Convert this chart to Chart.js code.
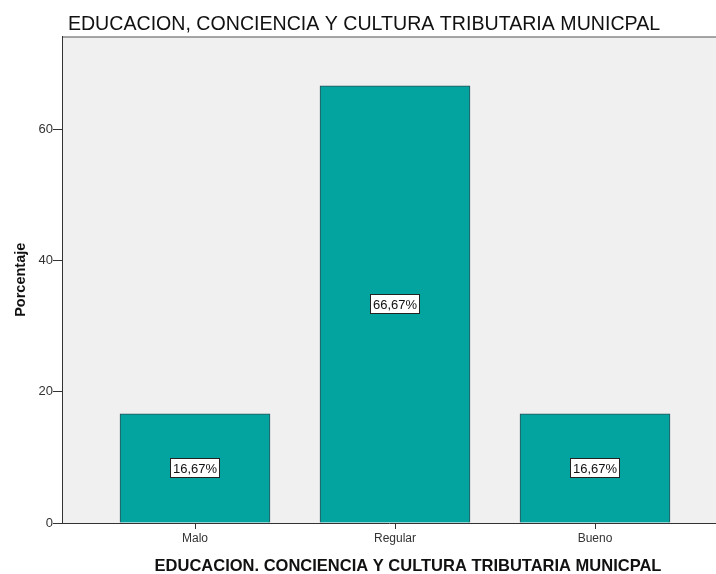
<!DOCTYPE html>
<html>
<head>
<meta charset="utf-8">
<script src="https://cdn.jsdelivr.net/npm/chart.js@4.4.1/dist/chart.umd.min.js"></script>
<style>
  html, body { margin: 0; padding: 0; background: #fff; }
  #wrap { width: 716px; height: 574px; }
</style>
</head>
<body>
<div id="wrap"><canvas id="graph" width="716" height="574"></canvas></div>
<script>
var categorias = ["Malo", "Regular", "Bueno"];
var porcentajes = [16.67, 66.67, 16.67];
var etiquetas = ["16,67%", "66,67%", "16,67%"];
var yTicks = [0, 20, 40, 60];
var tituloX = "EDUCACION. CONCIENCIA Y CULTURA TRIBUTARIA MUNICPAL";

var puntos = [];
for (var i = 0; i < categorias.length; i++) {
    puntos.push({x: i + 1, y: porcentajes[i]});
}

// fondo gris del area de grafico + borde superior
var fondo = {
    id: "fondo",
    beforeDraw: function(chart) {
        var a = chart.chartArea, ctx = chart.ctx;
        ctx.save();
        ctx.fillStyle = "#f0f0f0";
        ctx.fillRect(a.left, a.top, a.right - a.left, a.bottom - a.top);
        ctx.strokeStyle = "#555";
        ctx.lineWidth = 1;
        ctx.beginPath();
        ctx.moveTo(a.left, a.top + 0.5);
        ctx.lineTo(a.right, a.top + 0.5);
        ctx.stroke();
        ctx.restore();
    }
};

// cajitas blancas con el porcentaje + titulo del eje x (un poco corrido a la derecha como en SPSS)
var cajas = {
    id: "cajas",
    afterDatasetsDraw: function(chart) {
        var ctx = chart.ctx;
        var meta = chart.getDatasetMeta(0);
        ctx.save();
        ctx.font = "13px 'Liberation Sans', Arial, sans-serif";
        ctx.textAlign = "center";
        ctx.textBaseline = "middle";
        meta.data.forEach(function(bar, i) {
            var cx = bar.x;
            var cy = (bar.y + bar.base) / 2;
            var t = etiquetas[i];
            var w = Math.round(ctx.measureText(t).width + 6);
            var h = 20;
            var x0 = Math.round(cx - w / 2), y0 = Math.round(cy - h / 2);
            ctx.fillStyle = "#fff";
            ctx.fillRect(x0, y0, w, h);
            ctx.strokeStyle = "#222";
            ctx.lineWidth = 1;
            ctx.strokeRect(x0 + 0.5, y0 + 0.5, w - 1, h - 1);
            ctx.fillStyle = "#111";
            ctx.fillText(t, cx, cy + 1);
        });
        var xs = chart.scales.x;
        ctx.font = "bold 16.5px 'Liberation Sans', Arial, sans-serif";
        ctx.fillText(tituloX, xs.getPixelForValue(2) + 13, chart.height - 8);
        ctx.restore();
    }
};

new Chart("graph", {
    type: "bar",
    data: {
        datasets: [{
            data: puntos,
            backgroundColor: "#03a3a0",
            borderColor: "#2a4f58",
            borderWidth: 1,
            barThickness: 150
        }]
    },
    plugins: [fondo, cajas],
    options: {
        responsive: false,
        animation: false,
        layout: {padding: {left: 12, right: 0, top: 0, bottom: 0}},
        plugins: {
            legend: {display: false},
            tooltip: {enabled: false},
            title: {
                display: true,
                text: "EDUCACION, CONCIENCIA Y CULTURA TRIBUTARIA MUNICPAL",
                color: "#111",
                font: {family: "'Liberation Sans', Arial, sans-serif", size: 19.6, weight: "normal"},
                padding: {top: 13, bottom: 0}
            }
        },
        scales: {
            x: {
                type: "linear",
                offset: false,
                min: 0.335,
                max: 3.605,
                grid: {display: true, offset: false, drawOnChartArea: false, tickLength: 6, color: "#333"},
                border: {display: true, color: "#333", width: 1},
                afterBuildTicks: function(s) {
                    s.ticks = categorias.map(function(c, i) { return {value: i + 1}; });
                },
                ticks: {
                    color: "#333",
                    font: {family: "'Liberation Sans', Arial, sans-serif", size: 12},
                    padding: 2,
                    maxRotation: 0,
                    autoSkip: false,
                    callback: function(v) { return categorias[v - 1]; }
                },
                title: {display: false},
                afterFit: function(s) { s.height = 51; }
            },
            y: {
                min: 0,
                max: 74.2,
                grid: {display: true, drawOnChartArea: false, tickLength: 9, color: "#333"},
                border: {display: true, color: "#333", width: 1},
                afterBuildTicks: function(s) {
                    s.ticks = yTicks.map(function(v) { return {value: v}; });
                },
                ticks: {
                    color: "#333",
                    font: {family: "'Liberation Sans', Arial, sans-serif", size: 13},
                    padding: 0
                },
                title: {
                    display: true,
                    text: "Porcentaje",
                    color: "#111",
                    font: {family: "'Liberation Sans', Arial, sans-serif", size: 14.5, weight: "bold"},
                    padding: {top: 0, bottom: 0}
                },
                afterFit: function(s) { s.width = 50; }
            }
        }
    }
});
</script>
</body>
</html>
